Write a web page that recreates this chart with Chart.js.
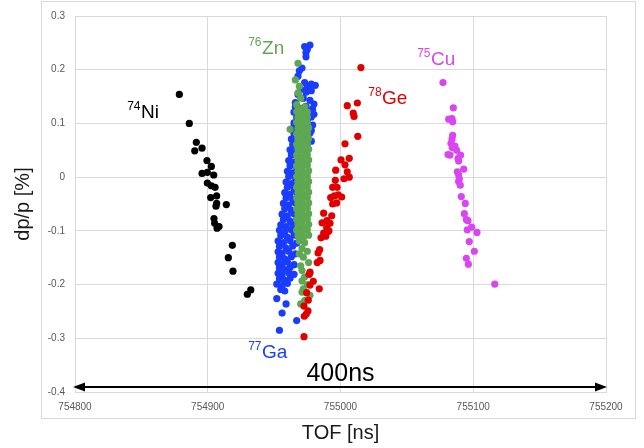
<!DOCTYPE html>
<html>
<head>
<meta charset="utf-8">
<script src="https://cdn.jsdelivr.net/npm/chart.js@4.4.1/dist/chart.umd.min.js"></script>
<style>
  html, body { margin: 0; padding: 0; background: #fff; }
  #wrap { width: 644px; height: 448px; }
</style>
</head>
<body>
<div id="wrap"><canvas id="tof-chart" width="644" height="448"></canvas></div>
<script>
/* TOF vs dp/p scatter, one series per isotope */

// axis ticks
const xTicks = [754800, 754900, 755000, 755100, 755200];
const yTicks = [-0.4, -0.3, -0.2, -0.1, 0, 0.1, 0.2, 0.3];

// 74Ni  [TOF ns, dp/p %]
const ni = [
  [754878.6, 0.154], [754886.1, 0.100], [754891.4, 0.065], [754895.7, 0.054], [754890.2, 0.049],
  [754899.4, 0.031], [754902.7, 0.020], [754895.7, 0.007], [754899.7, 0.009], [754904.5, 0.004],
  [754899.7, -0.011], [754902.7, -0.016], [754905.5, -0.019], [754902.2, -0.038], [754906.7, -0.035],
  [754906.7, -0.049], [754906.2, -0.054], [754914.0, -0.051], [754904.7, -0.077], [754905.2, -0.086],
  [754908.5, -0.092], [754907.0, -0.095], [754918.5, -0.127], [754915.5, -0.150], [754919.0, -0.175],
  [754932.4, -0.210], [754929.8, -0.218]
];

// 75Cu
const cu = [
  [755077.2, 0.176], [755085.0, 0.129], [755081.5, 0.108], [755084.0, 0.109], [755084.5, 0.103],
  [755084.5, 0.078], [755084.0, 0.071], [755083.2, 0.063], [755086.2, 0.058], [755084.2, 0.055],
  [755087.5, 0.050], [755081.0, 0.042], [755082.5, 0.041], [755088.5, 0.035], [755090.5, 0.041],
  [755089.0, 0.030], [755092.8, 0.015], [755088.0, 0.010], [755089.0, 0.004], [755089.5, -0.003],
  [755089.0, -0.008], [755090.2, -0.015], [755091.0, -0.036], [755094.0, -0.049], [755093.3, -0.068],
  [755094.8, -0.079], [755096.0, -0.081], [755095.5, -0.098], [755098.8, -0.093], [755102.8, -0.103],
  [755097.0, -0.120], [755100.8, -0.138], [755094.8, -0.151], [755096.3, -0.162], [755116.2, -0.199]
];

// 78Ge
const ge = [
  [755015.4, 0.204], [755005.1, 0.133], [755012.7, 0.138], [755009.6, 0.119], [755010.2, 0.113],
  [755013.0, 0.076], [755003.4, 0.062], [755000.4, 0.032], [755006.6, 0.035], [754996.4, 0.013],
  [755003.4, 0.023], [755005.1, 0.010], [755006.6, 0.000], [754996.1, -0.006], [755002.6, -0.003],
  [754994.1, -0.019], [754997.4, -0.019], [754995.3, -0.035], [754998.3, -0.033], [755000.9, -0.037],
  [754992.6, -0.038], [754994.1, -0.050], [754997.1, -0.048], [754987.3, -0.067], [754993.4, -0.072],
  [754989.8, -0.081], [754986.1, -0.085], [754992.1, -0.086], [754989.6, -0.094], [754990.6, -0.101],
  [754987.3, -0.104], [754991.3, -0.100], [754988.9, -0.110], [754985.3, -0.113], [754984.3, -0.135],
  [754983.1, -0.141], [754982.5, -0.159], [754984.6, -0.155], [754976.3, -0.181], [754977.0, -0.177],
  [754979.5, -0.194], [754977.0, -0.201], [754984.0, -0.208], [754974.5, -0.215], [754975.7, -0.229],
  [754972.5, -0.240], [754975.5, -0.249], [754974.2, -0.255], [754972.7, -0.259], [754972.5, -0.297]
];

// 77Ga
const ga = [
  [754977, 0.246], [754973, 0.243], [754975, 0.238], [754974, 0.232], [754974, 0.224], [754971, 0.203],
  [754969, 0.198], [754968, 0.188], [754973, 0.176], [754978, 0.173], [754981, 0.171], [754975, 0.167],
  [754970, 0.164], [754974, 0.158], [754978, 0.161], [754968, 0.154], [754972, 0.147], [754977, 0.143],
  [754966, 0.139], [754980, 0.136],
  [754966, 0.131], [754970, 0.128], [754974, 0.132], [754979, 0.127],
  [754965, 0.121], [754969, 0.118], [754977, 0.122], [754980, 0.117],
  [754967, 0.111], [754972, 0.108], [754978, 0.112],
  [754965, 0.101], [754969, 0.098], [754975, 0.103], [754979, 0.097],
  [754964, 0.091], [754968, 0.088], [754973, 0.092], [754978, 0.087],
  [754965, 0.081], [754970, 0.078], [754977, 0.082],
  [754963, 0.071], [754967, 0.068], [754972, 0.072], [754978, 0.067],
  [754964, 0.061], [754969, 0.058], [754975, 0.062],
  [754962, 0.051], [754966, 0.048], [754971, 0.052], [754974, 0.047],
  [754963, 0.041], [754968, 0.038], [754973, 0.042],
  [754961, 0.031], [754965, 0.028], [754970, 0.032], [754973, 0.027],
  [754962, 0.021], [754967, 0.018], [754972, 0.022],
  [754960, 0.011], [754964, 0.008], [754969, 0.012], [754973, 0.007],
  [754961, 0.001], [754966, -0.002], [754971, 0.002],
  [754959, -0.009], [754963, -0.012], [754968, -0.008], [754972, -0.013],
  [754960, -0.019], [754965, -0.022], [754970, -0.018],
  [754958, -0.029], [754962, -0.032], [754967, -0.028], [754972, -0.033],
  [754959, -0.039], [754964, -0.042], [754969, -0.038],
  [754957, -0.049], [754961, -0.052], [754966, -0.048], [754971, -0.053],
  [754958, -0.059], [754963, -0.062], [754968, -0.058],
  [754956, -0.069], [754960, -0.072], [754965, -0.068], [754970, -0.073],
  [754957, -0.079], [754962, -0.082], [754967, -0.078],
  [754955, -0.089], [754959, -0.092], [754964, -0.088], [754969, -0.093],
  [754954, -0.099], [754958, -0.102], [754963, -0.098], [754967, -0.103],
  [754955, -0.109], [754960, -0.112], [754965, -0.108],
  [754953, -0.119], [754957, -0.122], [754962, -0.118], [754967, -0.123],
  [754954, -0.129], [754959, -0.132], [754964, -0.128],
  [754953, -0.139], [754956, -0.142], [754961, -0.138], [754966, -0.143],
  [754954, -0.149], [754958, -0.152], [754963, -0.148],
  [754953, -0.159], [754956, -0.162], [754960, -0.158], [754965, -0.163],
  [754954, -0.169], [754958, -0.172], [754962, -0.168],
  [754953, -0.179], [754956, -0.182], [754961, -0.178], [754965, -0.181],
  [754954, -0.189], [754958, -0.192], [754962, -0.188],
  [754952, -0.199], [754956, -0.202], [754960, -0.198],
  [754955, -0.209], [754958, -0.212],
  [754952, -0.226], [754959, -0.236], [754956, -0.253], [754967, -0.267], [754954, -0.285]
];

// 76Zn
const zn = [
  [754968, 0.212], [754966, 0.181], [754969, 0.169], [754968, 0.157], [754970, 0.147], [754967, 0.135],
  [754962, 0.089],
  [754969, 0.127], [754973, 0.131],
  [754967, 0.122], [754971, 0.118], [754975, 0.121],
  [754968, 0.111], [754972, 0.108], [754975, 0.112],
  [754967, 0.102], [754971, 0.099], [754975, 0.101],
  [754968, 0.091], [754972, 0.088], [754976, 0.092],
  [754967, 0.081], [754971, 0.078], [754975, 0.082],
  [754968, 0.071], [754972, 0.068], [754976, 0.072],
  [754967, 0.061], [754971, 0.058], [754975, 0.062],
  [754968, 0.051], [754972, 0.048], [754976, 0.052],
  [754967, 0.041], [754971, 0.038], [754975, 0.042],
  [754968, 0.031], [754972, 0.028], [754976, 0.032],
  [754967, 0.021], [754971, 0.018], [754975, 0.022],
  [754968, 0.011], [754972, 0.008], [754976, 0.012],
  [754967, 0.001], [754971, -0.002], [754975, 0.002],
  [754968, -0.009], [754972, -0.012], [754976, -0.008],
  [754967, -0.019], [754971, -0.022], [754975, -0.018],
  [754968, -0.029], [754972, -0.032], [754976, -0.028],
  [754967, -0.039], [754971, -0.042], [754975, -0.038],
  [754968, -0.049], [754972, -0.052], [754976, -0.048],
  [754967, -0.059], [754971, -0.062], [754975, -0.058],
  [754968, -0.069], [754972, -0.072], [754976, -0.068],
  [754967, -0.079], [754971, -0.082], [754975, -0.078],
  [754968, -0.089], [754972, -0.092], [754976, -0.088],
  [754967, -0.099], [754971, -0.102], [754975, -0.098],
  [754968, -0.109], [754972, -0.112], [754976, -0.108],
  [754969, -0.119], [754973, -0.122],
  [754971, -0.133], [754975, -0.138], [754969, -0.143], [754972, -0.149], [754976, -0.159],
  [754970, -0.165], [754971, -0.174], [754977, -0.180], [754973, -0.186], [754971, -0.193],
  [754975, -0.200], [754972, -0.208], [754977, -0.220], [754971, -0.214], [754973, -0.230],
  [754970, -0.236]
];

// isotope labels: mass number, element, anchor [TOF, dp/p]
const labelMass  = ['74', '76', '78', '75', '77'];
const labelElem  = ['Ni', 'Zn', 'Ge', 'Cu', 'Ga'];
const labelTof   = [754849.7, 754940.9, 755031.3, 755068.2, 754940.9];
const labelDp    = [0.1095, 0.2297, 0.1354, 0.2094, -0.336];
const labelColor = ['#000000', '#5fa852', '#e00000', '#d946ef', '#1a3cff'];

// 400 ns span arrow
const spanTof  = [754800, 755200];
const spanDp   = -0.39;
const spanText = '400ns';
const spanTextDp = -0.379;

const toPts = arr => arr.map(p => ({ x: p[0], y: p[1] }));

/* outer frame of the chart */
const framePlugin = {
  id: 'frame',
  beforeDraw(chart) {
    const { ctx } = chart;
    ctx.save();
    ctx.fillStyle = '#fff';
    ctx.fillRect(0, 0, chart.width, chart.height);
    ctx.strokeStyle = '#d9d9d9';
    ctx.lineWidth = 1;
    ctx.strokeRect(41.5, 1.5, 594, 417);
    ctx.restore();
  },
};

/* isotope labels, span arrow and its text */
const notePlugin = {
  id: 'notes',
  afterDatasetsDraw(chart) {
    const { ctx, scales } = chart;
    const xs = scales.x, ys = scales.y;
    ctx.save();

    labelElem.forEach((el, i) => {
      const x = xs.getPixelForValue(labelTof[i]);
      const y = ys.getPixelForValue(labelDp[i]);
      ctx.fillStyle = labelColor[i];
      ctx.textBaseline = 'alphabetic';
      ctx.font = '19px "Liberation Sans", Arial, sans-serif';
      ctx.textAlign = 'left';
      ctx.fillText(el, x, y);
      ctx.font = '12px "Liberation Sans", Arial, sans-serif';
      ctx.textAlign = 'right';
      ctx.fillText(labelMass[i], x - 0.5, y - 8);
    });

    const x1 = xs.getPixelForValue(spanTof[0]);
    const x2 = xs.getPixelForValue(spanTof[1]);
    const ya = Math.round(ys.getPixelForValue(spanDp));
    ctx.strokeStyle = '#000';
    ctx.fillStyle = '#000';
    ctx.lineWidth = 2;
    ctx.beginPath();
    ctx.moveTo(x1 + 6, ya);
    ctx.lineTo(x2 - 6, ya);
    ctx.stroke();
    ctx.beginPath();
    ctx.moveTo(x1 - 2, ya); ctx.lineTo(x1 + 10, ya - 4.5); ctx.lineTo(x1 + 10, ya + 4.5);
    ctx.closePath(); ctx.fill();
    ctx.beginPath();
    ctx.moveTo(x2 + 1, ya); ctx.lineTo(x2 - 11, ya - 4.5); ctx.lineTo(x2 - 11, ya + 4.5);
    ctx.closePath(); ctx.fill();

    ctx.font = '25px "Liberation Sans", Arial, sans-serif';
    ctx.textAlign = 'center';
    ctx.textBaseline = 'alphabetic';
    ctx.fillText(spanText, xs.getPixelForValue((spanTof[0] + spanTof[1]) / 2), ys.getPixelForValue(spanTextDp));
    ctx.restore();
  },
};

const dot = (label, data, color, order) => ({
  label,
  data: toPts(data),
  backgroundColor: color,
  borderWidth: 0,
  pointRadius: 3.6,
  pointHoverRadius: 3.6,
  order,
});

const tickFont = { family: '"Liberation Sans", Arial, sans-serif', size: 10 };
const titleFont = { family: '"Liberation Sans", Arial, sans-serif', size: 20 };

new Chart(document.getElementById('tof-chart'), {
  type: 'scatter',
  data: {
    datasets: [
      dot('78Ge', ge, '#e00000', 1),
      dot('76Zn', zn, '#5fa852', 2),
      dot('77Ga', ga, '#1a3cff', 3),
      dot('74Ni', ni, '#000000', 4),
      dot('75Cu', cu, '#d946ef', 4),
    ],
  },
  options: {
    responsive: false,
    animation: false,
    devicePixelRatio: 1,
    layout: { padding: { top: 14, right: 38, bottom: 0, left: 0 } },
    plugins: { legend: { display: false }, tooltip: { enabled: false } },
    scales: {
      x: {
        type: 'linear',
        min: xTicks[0],
        max: xTicks[xTicks.length - 1],
        afterBuildTicks: s => { s.ticks = xTicks.map(v => ({ value: v })); },
        afterFit: s => { s.height = 56; },
        grid: { color: '#d9d9d9', drawTicks: false },
        border: { color: '#d9d9d9' },
        ticks: { color: '#595959', font: tickFont, padding: 9, maxRotation: 0, callback: v => String(v) },
        title: { display: true, text: 'TOF [ns]', color: '#1a1a1a', font: titleFont, padding: { top: 0, bottom: 3 } },
      },
      y: {
        type: 'linear',
        min: yTicks[0],
        max: yTicks[yTicks.length - 1],
        afterBuildTicks: s => { s.ticks = yTicks.map(v => ({ value: v })); },
        afterFit: s => { s.width = 75; },
        grid: { color: '#d9d9d9', drawTicks: false },
        border: { color: '#d9d9d9' },
        ticks: { color: '#595959', font: tickFont, padding: 10, callback: v => String(Math.round(v * 10) / 10) },
        title: { display: true, text: 'dp/p [%]', color: '#1a1a1a', font: titleFont, padding: { top: 11, bottom: 0 } },
      },
    },
  },
  plugins: [framePlugin, notePlugin],
});
</script>
</body>
</html>
